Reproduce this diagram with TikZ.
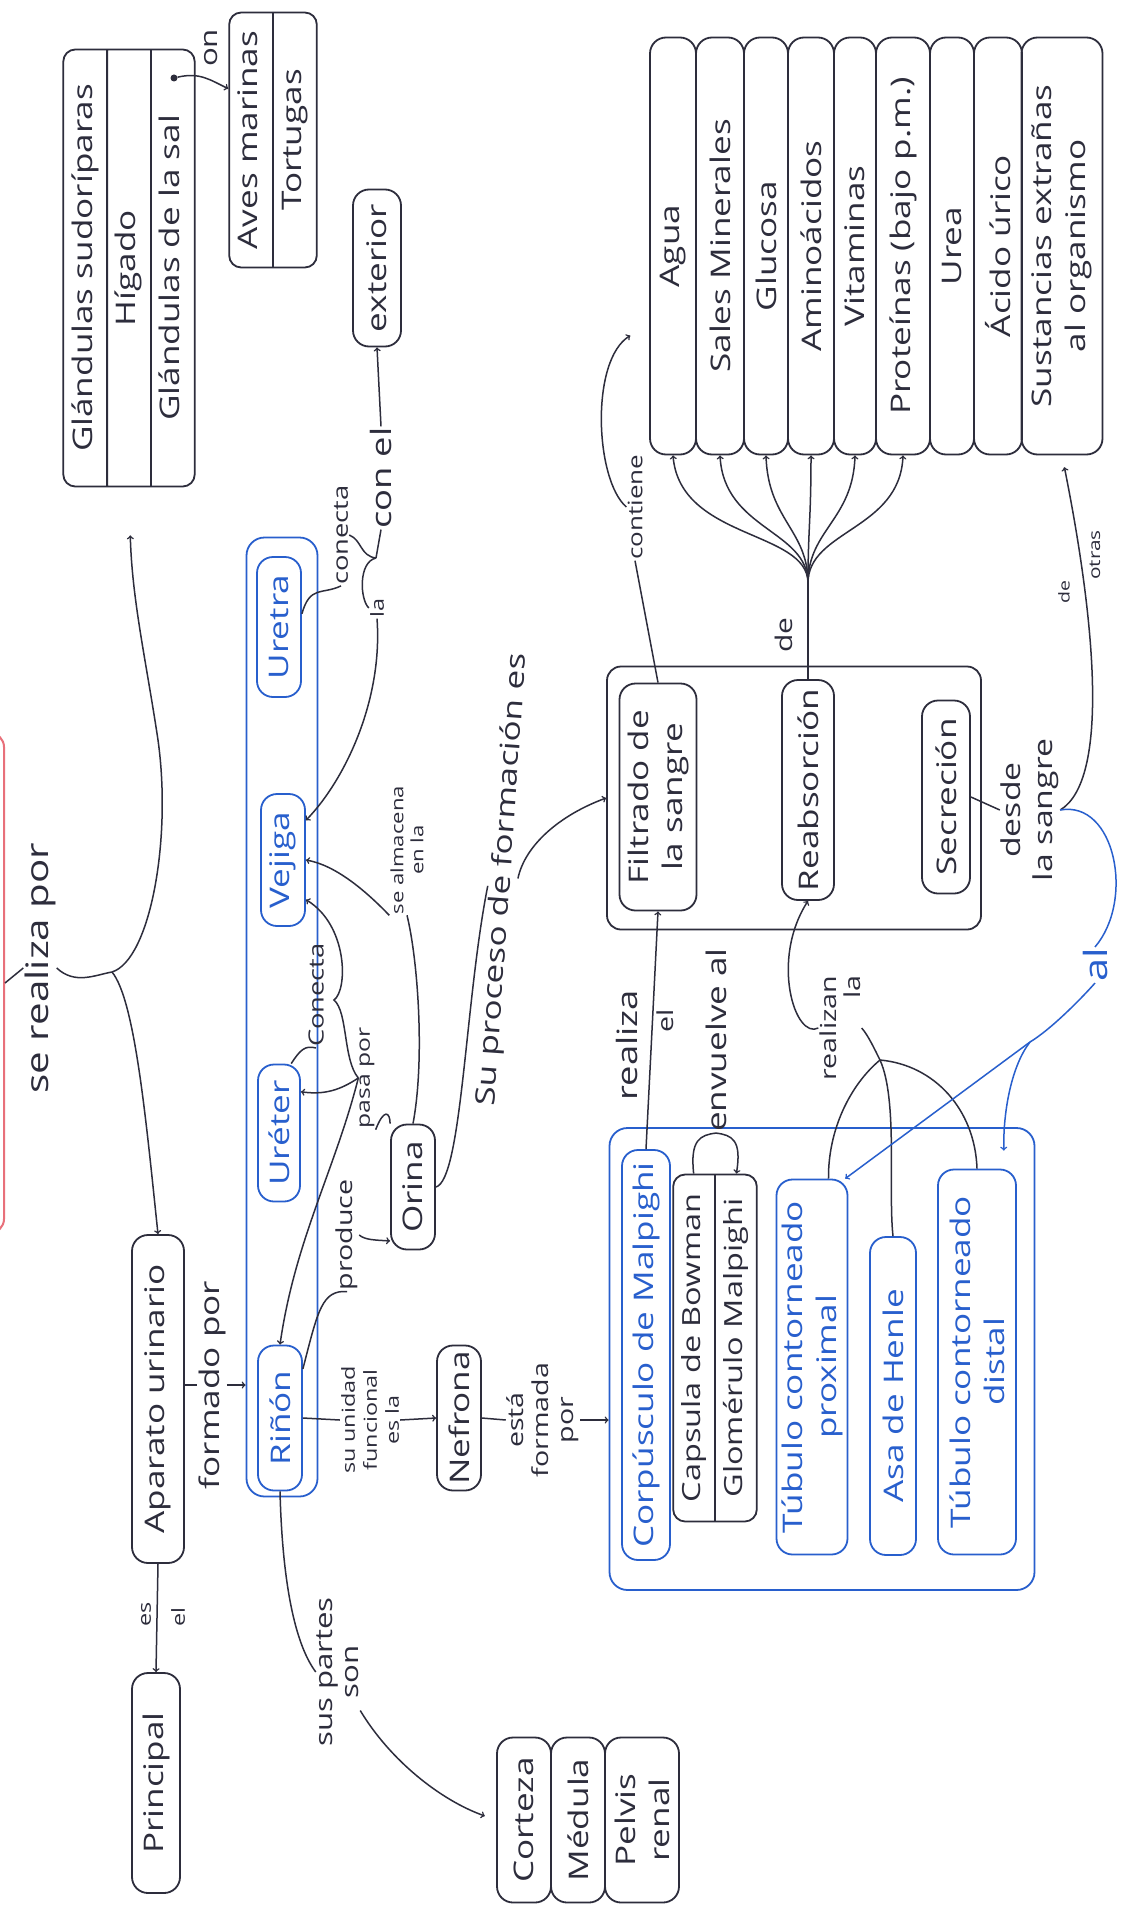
\documentclass[tikz,border=0pt]{standalone}
\usepackage{fontspec}
\setmainfont{Open Sans}[FakeStretch=1.3]
\usetikzlibrary{shapes,arrows,positioning,calc}
\definecolor{ink}{RGB}{45,45,60}
\definecolor{blueink}{RGB}{40,95,205}
\definecolor{redink}{RGB}{232,112,122}

\begin{document}
\begin{tikzpicture}[x=1pt, y=-1pt, >=to,
  every node/.style={rotate=90},
  box/.style={draw=ink, line width=1.8pt, rounded corners=16pt, align=center, inner sep=2pt,
    text=ink, font={\fontsize{27}{34}\selectfont}},
  bbox/.style={box, draw=blueink, text=blueink},
  splitbox/.style={box, rectangle split, rectangle split parts=#1, inner ysep=4pt, rounded corners=12pt},
  lbl/.style 2 args={inner sep=1pt, align=center, text=ink, font={\fontsize{#1}{#2}\selectfont}},
  blbl/.style 2 args={lbl={#1}{#2}, text=blueink},
  conn/.style={draw=ink, line width=1.5pt},
  bconn/.style={draw=blueink, line width=1.5pt}]
  \useasboundingbox[fill=white] (0,0) rectangle (1128,1910);

  %root (cut off)
  \node[draw=redink, line width=2pt, rounded corners=14pt, minimum width=500pt, minimum height=120pt] (root) at (-56,983) {};
  \node[lbl={31}{36}] (realiza) at (40,968) {se realiza por};

  %other organs
  \node[splitbox=3, minimum width=437pt] (gland) at (129,268)
    {\strut Glándulas sudoríparas \nodepart{two}\strut Hígado \nodepart{three}\strut Glándulas de la sal};
  \node[circle, fill=ink, inner sep=0pt, minimum size=7pt] (saldot) at (174,78) {};
  \node[lbl={24}{26}] (on) at (211,48) {on};
  \node[splitbox=2, minimum width=255pt] (aves) at (273,140) {\strut Aves marinas \nodepart{two}\strut Tortugas};
  \node[box, minimum width=157pt, minimum height=48pt] (exterior) at (377,268) {exterior};
  \node[lbl={28}{30}] (conel) at (381,478) {con el};
  \node[lbl={21}{24}] (conecta) at (341,535) {conecta};
  \node[lbl={18}{20}] (la) at (377,608) {la};

  %urinary organs
  \node[draw=blueink, line width=1.8pt, rounded corners=18pt, minimum width=959pt, minimum height=71pt] (organs) at (282,1017) {};
  \node[bbox, minimum width=140pt, minimum height=44pt] (uretra) at (279,627) {Uretra};
  \node[bbox, minimum width=132pt, minimum height=44pt] (vejiga) at (283,860) {Vejiga};
  \node[bbox, minimum width=137pt, minimum height=42pt] (ureter) at (279,1133) {Uréter};
  \node[bbox, minimum width=145pt, minimum height=44pt] (rinon) at (280,1418) {Riñón};
  \node[lbl={21}{24}] (conecta2) at (316,995) {Conecta};
  \node[lbl={19}{22}] (pasapor) at (367,1078) {pasa por};
  \node[lbl={22}{24}] (produce) at (347,1235) {produce};
  \node[lbl={17}{20}] (almacena) at (407,850) {se almacena\\en la};
  \node[box, minimum width=125pt, minimum height=44pt] (orina) at (413,1187) {Orina};
  \node[lbl={27}{30}, rotate=-4] (proceso) at (503,880) {Su proceso de formación es};

  %aparato
  \node[box, minimum width=328pt, minimum height=52pt] (aparato) at (158,1399) {Aparato urinario};
  \node[box, minimum width=220pt, minimum height=48pt] (principal) at (156,1783) {Principal};
  \node[lbl={18}{20}] (es) at (146,1614) {es};
  \node[lbl={18}{20}] (el) at (178,1617) {el};
  \node[lbl={27}{30}] (formado) at (212,1385) {formado por};
  \node[lbl={18}{22}] (unidad) at (370,1420) {su unidad\\funcional\\es la};
  \node[box, minimum width=145pt, minimum height=44pt] (nefrona) at (459,1418) {Nefrona};
  \node[lbl={22}{25}] (formada) at (543,1420) {está\\formada\\por};
  \node[lbl={24}{26}] (partes) at (338,1672) {sus partes\\son};
  \node[box, minimum width=165pt, minimum height=54pt] (corteza) at (524,1820) {Corteza};
  \node[box, minimum width=165pt, minimum height=54pt] (medula) at (578,1820) {Médula};
  \node[box, minimum width=165pt, minimum height=74pt] (pelvis) at (642,1820) {Pelvis\\renal};

  %process
  \node[draw=ink, line width=1.8pt, rounded corners=14pt, minimum width=263pt, minimum height=374pt] (proc) at (794,798) {};
  \node[box, minimum width=227pt, minimum height=77pt] (filtrado) at (658,797) {Filtrado de\\la sangre};
  \node[box, minimum width=220pt, minimum height=52pt] (reabs) at (808,790) {Reabsorción};
  \node[box, minimum width=193pt, minimum height=48pt] (secrecion) at (946,797) {Secreción};

  %nephron
  \node[draw=blueink, line width=1.8pt, rounded corners=18pt, minimum width=462pt, minimum height=425pt] (nephron) at (822,1359) {};
  \node[bbox, minimum width=410pt, minimum height=48pt] (corpus) at (646,1355) {Corpúsculo de Malpighi};
  \node[splitbox=2, minimum width=347pt, font={\fontsize{25}{32}\selectfont}] (capsula) at (715,1348)
    {\strut Capsula de Bowman \nodepart{two}\strut Glomérulo Malpighi};
  \node[bbox, minimum width=375pt, minimum height=71pt] (tcp) at (812,1367) {Túbulo contorneado\\proximal};
  \node[bbox, minimum width=318pt, minimum height=46pt] (asa) at (893,1396) {Asa de Henle};
  \node[bbox, minimum width=385pt, minimum height=78pt] (tcd) at (977,1362) {Túbulo contorneado\\distal};
  \node[lbl={28}{32}] (realizaA) at (627,1045) {realiza};
  \node[lbl={22}{24}] (elA) at (665,1021) {el};
  \node[lbl={27}{30}] (envuelve) at (716,1040) {envuelve al};
  \node[lbl={22}{24}, align=right] (realizan) at (840,1028) {realizan\\la};

  %labels near the blood box
  \node[lbl={20}{22}] (contiene) at (635,507) {contiene};
  \node[lbl={23}{26}] (deA) at (784,635) {de};
  \node[lbl={26}{32}] (desde) at (1030,810) {desde\\la sangre};
  \node[lbl={15}{16}] (deB) at (1064,592) {de};
  \node[lbl={16}{18}] (otras) at (1095,555) {otras};
  \node[blbl={32}{34}] (al) at (1095,965) {al};

  %substances
  \node[box, minimum width=417pt, minimum height=46pt] (agua) at (673,246) {Agua};
  \node[box, minimum width=417pt, minimum height=48pt] (sales) at (720,246) {Sales Minerales};
  \node[box, minimum width=417pt, minimum height=44pt] (glucosa) at (766,246) {Glucosa};
  \node[box, minimum width=417pt, minimum height=46pt] (amino) at (811,246) {Aminoácidos};
  \node[box, minimum width=417pt, minimum height=42pt] (vitam) at (855,246) {Vitaminas};
  \node[box, minimum width=417pt, minimum height=54pt] (prot) at (903,246) {Proteínas (bajo p.m.)};
  \node[box, minimum width=417pt, minimum height=44pt] (urea) at (952,246) {Urea};
  \node[box, minimum width=417pt, minimum height=48pt] (acido) at (998,246) {Ácido úrico};
  \node[box, minimum width=417pt, minimum height=81pt] (sust) at (1062,246) {Sustancias extrañas\\al organismo};

  %connectors: top level
  \draw[conn] (root.south) -- (realiza.north);
  \coordinate (rsplit) at (112,972);
  \draw[conn] (realiza.south) .. controls (75,985) and (95,975) .. (rsplit);
  \draw[conn,->,shorten >=48pt] (rsplit) .. controls (150,960) and (172,840) .. (158,740)
    .. controls (146,660) and (132,600) .. (gland.west);
  \draw[conn,->] (rsplit) .. controls (135,1000) and (146,1120) .. (aparato.east);
  \draw[conn,->] (saldot) .. controls (200,72) and (210,80) .. ($(aves.north east)!0.3!(aves.north west)$);

  %uretra / vejiga / ureter
  \draw[conn] (uretra.-60) .. controls (310,585) and (322,595) .. (conecta.west);
  \coordinate (btip) at (376,558);
  \draw[conn] (conecta.south) .. controls (362,540) and (360,556) .. (btip);
  \draw[conn] (la.north) .. controls (360,600) and (358,562) .. (btip);
  \draw[conn] (btip) -- (conel.west);
  \draw[conn,->] (conel.east) -- (exterior.west);
  \draw[conn,->] (la.west) .. controls (383,700) and (345,780) .. (vejiga.-30);
  \draw[conn,->] (almacena.north west) .. controls (365,890) and (335,865) .. (vejiga.south);
  \draw[conn] (orina.east) .. controls (425,1060) and (418,960) .. (almacena.west);
  \draw[conn] (orina.south) .. controls (462,1180) and (465,1000) .. (proceso.115);
  \draw[conn,->] (proceso.-80) .. controls (525,845) and (560,815) .. (proc.north);
  \draw[conn] (rinon.-25) .. controls (318,1310) and (322,1290) .. (produce.west);
  \draw[conn,->] (produce.south) .. controls (365,1240) and (375,1240) .. (orina.157);
  \draw[conn] (orina.north east) .. controls (390,1112) and (384,1108) .. (pasapor.south west);
  \draw[conn,->] (pasapor.north) .. controls (343,1060) and (348,1012) .. (334,1000)
    .. controls (348,990) and (348,925) .. (vejiga.-150);
  \draw[conn,->] (pasapor.north) .. controls (340,1090) and (325,1095) .. (ureter.-28);
  \draw[conn,->] (pasapor.north) .. controls (335,1170) and (295,1240) .. (rinon.east);
  \draw[conn] (ureter.-10) .. controls (300,1050) and (305,1045) .. (conecta2.west);

  %kidney side
  \draw[conn] (aparato.south |- formado.north) -- (formado.north);
  \draw[conn,->] (formado.south) -- (formado.south -| organs.north);
  \draw[conn,->] (aparato.west) -- (principal.east);
  \draw[conn] (rinon.south) -- (unidad.north);
  \draw[conn,->] (unidad.south) -- (nefrona.north);
  \draw[conn] (nefrona.south) -- (formada.north);
  \draw[conn,->] (formada.south) -- (formada.south -| nephron.north);
  \draw[conn] (rinon.west) .. controls (282,1570) and (292,1640) .. (partes.north);
  \draw[conn,->,shorten >=12pt] (partes.-150) .. controls (390,1760) and (440,1800) .. (corteza.north);

  %nephron to process
  \draw[conn,->] (corpus.east) -- (filtrado.west);
  \coordinate (capA) at ($(capsula.north east)!0.25!(capsula.south east)$);
  \coordinate (capB) at ($(capsula.north east)!0.75!(capsula.south east)$);
  \draw[conn] (capA) .. controls (690,1140) and (700,1135) .. (envuelve.west);
  \draw[conn,->] (envuelve.west) .. controls (732,1135) and (742,1140) .. (capB);
  \draw[conn,->] (realizan.north) .. controls (795,1040) and (770,960) .. (reabs.west);
  \coordinate (tgath) at (880,1060);
  \draw[conn] (realizan.south) .. controls (868,1035) and (875,1050) .. (tgath);
  \draw[conn] (tgath) .. controls (850,1085) and (828,1130) .. (tcp.-5);
  \draw[conn] (tgath) .. controls (898,1100) and (888,1190) .. (asa.east);
  \draw[conn] (tgath) .. controls (935,1065) and (975,1110) .. (tcd.east);

  %process to substances
  \draw[conn] (filtrado.east) -- (contiene.west);
  \draw[conn,->,shorten >=22pt] (contiene.north) .. controls (595,480) and (590,360) .. (agua.163);
  \coordinate (fan) at (808,583);
  \draw[conn] (reabs.east) -- (fan);
  \draw[conn,->] (fan) .. controls (808,530) and (680,540) .. (agua.west);
  \draw[conn,->] (fan) .. controls (808,530) and (724,530) .. (sales.west);
  \draw[conn,->] (fan) .. controls (808,530) and (768,520) .. (glucosa.west);
  \draw[conn,->] (fan) .. controls (808,530) and (811,520) .. (amino.west);
  \draw[conn,->] (fan) .. controls (808,530) and (853,520) .. (vitam.west);
  \draw[conn,->] (fan) .. controls (808,530) and (900,530) .. (prot.west);
  \draw[conn] (secrecion.south) -- (desde.north);
  \draw[conn,->,shorten >=12pt] (desde.south) .. controls (1110,780) and (1095,620) .. (sust.west);

  %blue "al"
  \draw[bconn] (desde.south) .. controls (1115,800) and (1135,900) .. (al.east);
  \coordinate (alsplit) at (1030,1042);
  \draw[bconn] (al.west) .. controls (1080,1000) and (1050,1030) .. (alsplit);
  \draw[bconn,->,shorten >=18pt] (alsplit) .. controls (1012,1065) and (1003,1110) .. (tcd.-8);
  \draw[bconn,->] (alsplit) -- (tcp.-10);
\end{tikzpicture}
\end{document}
